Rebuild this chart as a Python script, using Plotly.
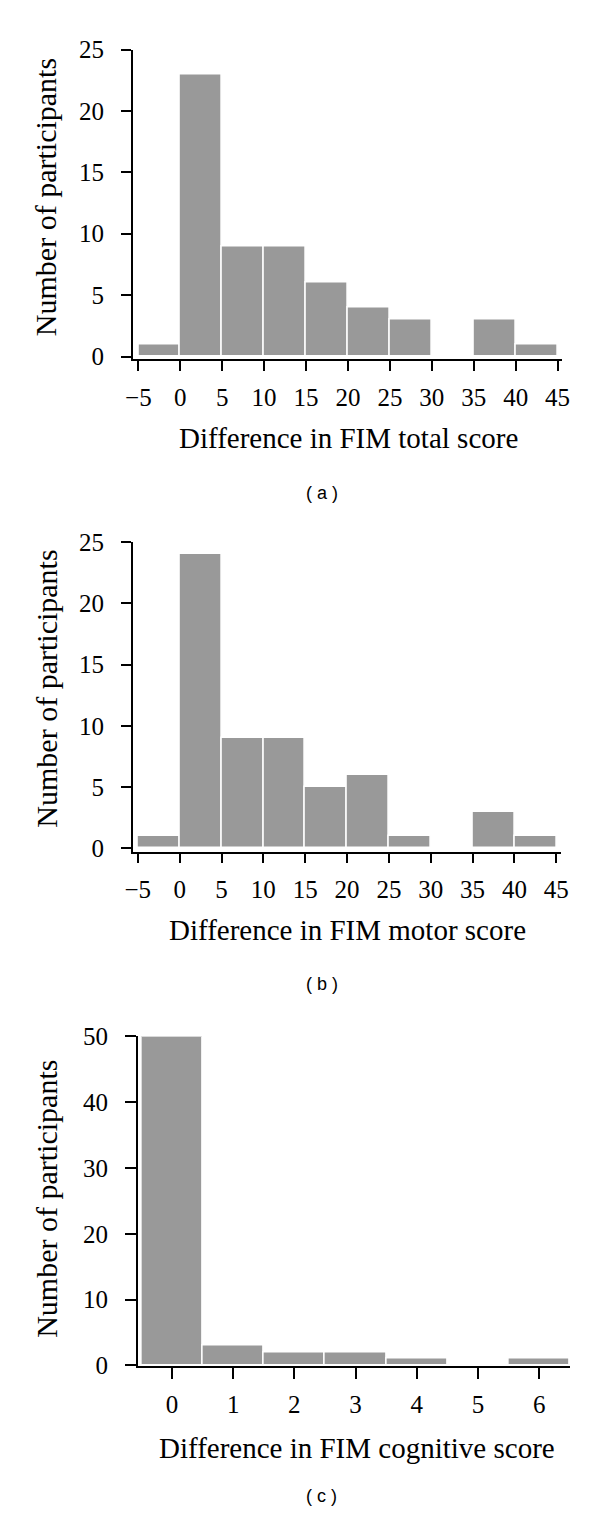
import plotly.graph_objects as go

# histogram bins (left edges) and counts
bin_edges_ab = [-5, 0, 5, 10, 15, 20, 25, 30, 35, 40]
total_counts = [1, 23, 9, 9, 6, 4, 3, 0, 3, 1]
motor_counts = [1, 24, 9, 9, 5, 6, 1, 0, 3, 1]
bin_width_ab = 5

cog_values = [0, 1, 2, 3, 4, 5, 6]
cog_counts = [50, 3, 2, 2, 1, 0, 1]

xticks_ab = [-5, 0, 5, 10, 15, 20, 25, 30, 35, 40, 45]
xticklabels_ab = ["\u22125", "0", "5", "10", "15", "20", "25", "30", "35", "40", "45"]
yticks_ab = [0, 5, 10, 15, 20, 25]
yticks_c = [0, 10, 20, 30, 40, 50]

panel_titles = ["Difference in FIM total score",
                "Difference in FIM motor score",
                "Difference in FIM cognitive score"]
panel_tags = ["( a )", "( b )", "( c )"]
y_title = "Number of participants"

BAR = "#999999"
SERIF = "Liberation Serif, Times New Roman, serif"
W, H = 600, 1530
OFF = 8  # default body margin of the html page shifts the plot by this much


def px_x(p):
    return (p - OFF) / W


def px_y(p):
    return 1 - (p - OFF) / H


fig = go.Figure()

fig.add_trace(go.Bar(
    x=[e + bin_width_ab / 2 for e in bin_edges_ab], y=total_counts,
    width=bin_width_ab, marker=dict(color=BAR, line=dict(color="white", width=1.5)),
    xaxis="x", yaxis="y", showlegend=False))
fig.add_trace(go.Bar(
    x=[e + bin_width_ab / 2 for e in bin_edges_ab], y=motor_counts,
    width=bin_width_ab, marker=dict(color=BAR, line=dict(color="white", width=1.5)),
    xaxis="x2", yaxis="y2", showlegend=False))
fig.add_trace(go.Bar(
    x=cog_values, y=cog_counts, width=1,
    marker=dict(color=BAR, line=dict(color="white", width=1.5)),
    xaxis="x3", yaxis="y3", showlegend=False))


def ax_common():
    return dict(showline=True, linecolor="black", linewidth=1.5, showgrid=False,
                zeroline=False, ticks="outside", tickcolor="black", tickwidth=1.5,
                tickfont=dict(family=SERIF, size=25, color="black"))


# pixel boxes of each plot area in the reference: left, right, top, bottom
boxes = [(128, 569, 37, 352), (128, 568, 538, 853), (133, 577, 1041, 1376)]

xa = ax_common()
xa.update(domain=[px_x(boxes[0][0]), px_x(boxes[0][1])], range=[-5.66, 45.53],
          tickvals=xticks_ab, ticktext=xticklabels_ab, ticklen=10,
          ticklabelstandoff=5, anchor="y")
ya = ax_common()
ya.update(domain=[px_y(boxes[0][3]), px_y(boxes[0][2])], range=[-0.21, 25],
          tickvals=yticks_ab, ticklen=10, ticklabelstandoff=12, anchor="x")

xb = ax_common()
xb.update(domain=[px_x(boxes[1][0]), px_x(boxes[1][1])], range=[-5.6, 45.57],
          tickvals=xticks_ab, ticktext=xticklabels_ab, ticklen=10,
          ticklabelstandoff=5, anchor="y2")
yb = ax_common()
yb.update(domain=[px_y(boxes[1][3]), px_y(boxes[1][2])], range=[-0.26, 25],
          tickvals=yticks_ab, ticklen=10, ticklabelstandoff=12, anchor="x2")

xc = ax_common()
xc.update(domain=[px_x(boxes[2][0]), px_x(boxes[2][1])], range=[-0.56, 6.5],
          tickvals=cog_values, ticklen=11, ticklabelstandoff=4, anchor="y3")
yc = ax_common()
yc.update(domain=[px_y(boxes[2][3]), px_y(boxes[2][2])], range=[-0.05, 50],
          tickvals=yticks_c, ticklen=11, ticklabelstandoff=12, anchor="x3")

fig.update_layout(xaxis=xa, yaxis=ya, xaxis2=xb, yaxis2=yb, xaxis3=xc, yaxis3=yc)

# axis titles and panel tags as annotations (reference pixel positions)
xtitle_pos = [(350, 432), (349, 933), (358, 1460)]
ytitle_pos = [(39, 187), (39, 687), (39, 1206)]
tag_pos = [(322, 488), (322, 988), (322, 1508)]

anns = []
for i in range(3):
    anns.append(dict(text=panel_titles[i], x=px_x(xtitle_pos[i][0]), y=px_y(xtitle_pos[i][1]),
                     xref="paper", yref="paper", xanchor="center", yanchor="middle",
                     showarrow=False, font=dict(family=SERIF, size=29, color="black")))
    anns.append(dict(text=y_title, x=px_x(ytitle_pos[i][0]), y=px_y(ytitle_pos[i][1]),
                     xref="paper", yref="paper", xanchor="center", yanchor="middle",
                     showarrow=False, textangle=-90,
                     font=dict(family=SERIF, size=30, color="black")))
    anns.append(dict(text=panel_tags[i], x=px_x(tag_pos[i][0]), y=px_y(tag_pos[i][1]),
                     xref="paper", yref="paper", xanchor="center", yanchor="middle",
                     showarrow=False,
                     font=dict(family="Liberation Sans, Arial, sans-serif", size=18, color="black")))

fig.update_layout(
    annotations=anns,
    width=W, height=H,
    margin=dict(l=0, r=0, t=0, b=0),
    plot_bgcolor="white", paper_bgcolor="white",
    bargap=0,
)

fig.write_html("out.html")
